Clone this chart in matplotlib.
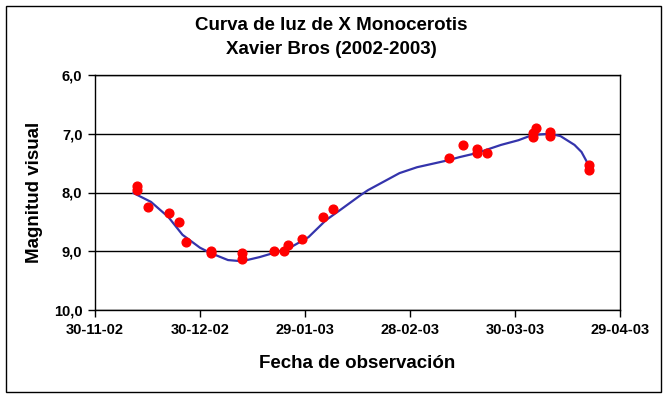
import numpy as np
import matplotlib
import matplotlib.pyplot as plt
import matplotlib.dates as mdates
from matplotlib.patches import Rectangle

matplotlib.use('Agg')
plt.rcParams['font.family'] = ['Liberation Sans', 'DejaVu Sans']
plt.rcParams['font.weight'] = 'bold'

# observations (date, visual magnitude)
obs_dates = ['2002-12-12', '2002-12-12', '2002-12-15', '2002-12-21', '2002-12-24',
             '2002-12-26', '2003-01-02', '2003-01-02', '2003-01-11', '2003-01-11',
             '2003-01-20', '2003-01-23', '2003-01-24', '2003-01-28', '2003-02-03',
             '2003-02-06', '2003-03-11', '2003-03-15', '2003-03-19', '2003-03-19',
             '2003-03-22', '2003-04-04', '2003-04-04', '2003-04-05', '2003-04-09',
             '2003-04-09', '2003-04-20', '2003-04-20']
obs_mags = [7.89, 7.96, 8.25, 8.35, 8.50,
            8.84, 9.00, 9.03, 9.03, 9.13,
            9.00, 9.00, 8.89, 8.79, 8.42,
            8.28, 7.41, 7.19, 7.26, 7.33,
            7.33, 6.99, 7.06, 6.90, 6.97,
            7.04, 7.53, 7.62]

# smoothed light curve (blue line)
fit_dates = ['2002-12-11', '2002-12-16', '2002-12-21', '2002-12-25', '2002-12-30',
             '2003-01-02', '2003-01-07', '2003-01-11', '2003-01-16', '2003-01-20',
             '2003-01-25', '2003-01-30', '2003-02-04', '2003-02-08', '2003-02-14',
             '2003-02-16', '2003-02-25', '2003-03-02', '2003-03-11', '2003-03-14',
             '2003-03-19', '2003-03-23', '2003-03-26', '2003-03-31', '2003-04-04',
             '2003-04-09', '2003-04-12', '2003-04-16', '2003-04-18', '2003-04-20']
fit_mags = [8.01, 8.16, 8.42, 8.72, 8.94,
            9.03, 9.15, 9.17, 9.10, 9.03,
            8.93, 8.76, 8.47, 8.30, 8.04,
            7.96, 7.67, 7.57, 7.45, 7.40,
            7.33, 7.25, 7.19, 7.11, 7.02,
            7.00, 7.04, 7.19, 7.31, 7.53]

x_ticks = ['2002-11-30', '2002-12-30', '2003-01-29', '2003-02-28', '2003-03-30', '2003-04-29']
y_ticks = [6.0, 7.0, 8.0, 9.0, 10.0]

obs_x = np.array(obs_dates, dtype='datetime64[D]')
fit_x = np.array(fit_dates, dtype='datetime64[D]')
tick_x = np.array(x_ticks, dtype='datetime64[D]')

fig = plt.figure(figsize=(6.67, 3.99), dpi=100)
ax = fig.add_axes([95 / 667, 1 - 310 / 399, 525 / 667, 235 / 399])

ax.plot(fit_x, fit_mags, color='#3434ac', lw=1.6, zorder=2)
ax.plot(obs_x, obs_mags, 'o', color='#ff0000', ms=6.3, mec='#ff0000', zorder=3)

ax.set_xlim(tick_x[0], tick_x[-1])
ax.set_xticks(tick_x)
ax.xaxis.set_major_formatter(mdates.DateFormatter('%d-%m-%y'))
ax.set_ylim(10.0, 6.0)
ax.set_yticks(y_ticks)
ax.set_yticklabels([f'{v:.1f}'.replace('.', ',') for v in y_ticks])
ax.yaxis.grid(True, color='black', lw=1)
ax.tick_params(direction='out', length=5, width=1, labelsize=10.5, pad=4)
for lab in ax.get_xticklabels() + ax.get_yticklabels():
    lab.set_fontweight('bold')
for sp in ax.spines.values():
    sp.set_color('black')
    sp.set_linewidth(1)

ax.set_xlabel('Fecha de observación', fontsize=13.5, fontweight='bold', labelpad=13)
ax.set_ylabel('Magnitud visual', fontsize=13.5, fontweight='bold', labelpad=8)

fig.text(0.497, 1 - 25 / 399, 'Curva de luz de X Monocerotis', ha='center', va='center',
         fontsize=13.5, fontweight='bold')
fig.text(0.497, 1 - 49 / 399, 'Xavier Bros (2002-2003)', ha='center', va='center',
         fontsize=13.5, fontweight='bold')

fig.patches.append(Rectangle((6 / 667, 7 / 399), 655 / 667, 386 / 399, transform=fig.transFigure,
                             fill=False, edgecolor='black', lw=1))

plt.savefig('out.png', dpi=100)
plt.close()
